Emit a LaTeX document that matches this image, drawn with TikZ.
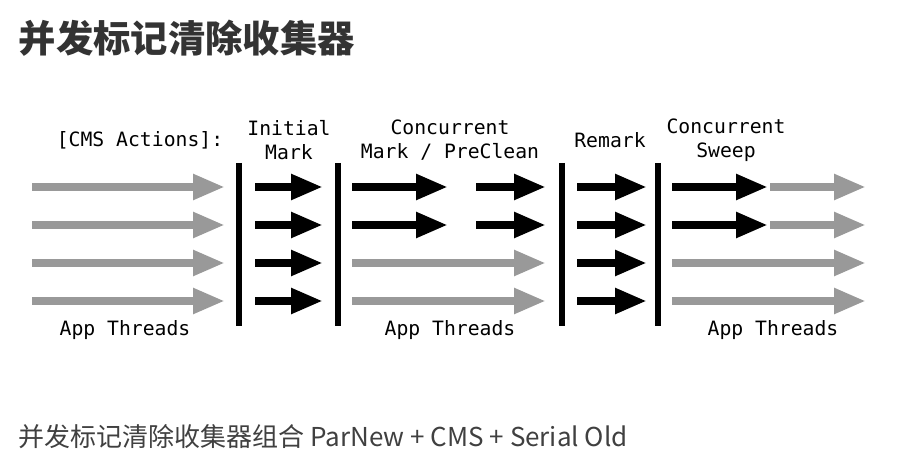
\documentclass[tikz,border=0pt]{standalone}
\usepackage{fontspec}
\setmonofont{DejaVu Sans Mono}
\newfontfamily\cjk{Noto Sans CJK SC}
\usetikzlibrary{arrows.meta}
\definecolor{ag}{HTML}{999999}
\begin{document}
\begin{tikzpicture}[x=0.75pt,y=-0.75pt,
  ar/.style={line width=6pt,-{Triangle[length=24pt,width=18pt]},shorten >=0pt},
  blk/.style={ar,black},
  gry/.style={ar,ag},
  bar/.style={line width=5pt,black},
  lbl/.style={font=\ttfamily\fontsize{14.8}{18}\selectfont,align=center}]
\useasboundingbox (0,0) rectangle (913,466);
\node[anchor=west,font=\cjk\bfseries\fontsize{28}{32}\selectfont,text=black!80] (title) at (14,38) {并发标记清除收集器};
\node[anchor=west,font=\cjk\fontsize{19.5}{23}\selectfont,text=black!75] (sub) at (14,437) {并发标记清除收集器组合 ParNew + CMS + Serial Old};
% bars
\foreach \x/\n in {239/b1,338/b2,562/b3,658/b4}{
  \coordinate (\n t) at (\x,163); \coordinate (\n b) at (\x,326);
  \draw[bar] (\n t) -- (\n b);}
\foreach \y/\r in {187/1,225/2,263/3,301/4}{
  \coordinate (g\r s) at (32,\y); \coordinate (g\r e) at (225,\y);
  \draw[gry] (g\r s) -- (g\r e);
  \coordinate (i\r s) at (255,\y); \coordinate (i\r e) at (323,\y);
  \draw[blk] (i\r s) -- (i\r e);
  \coordinate (r\r s) at (577,\y); \coordinate (r\r e) at (647,\y);
  \draw[blk] (r\r s) -- (r\r e);
}
\foreach \y/\r in {187/1,225/2}{
  \coordinate (c\r a) at (352,\y); \coordinate (c\r b) at (448,\y);
  \coordinate (c\r c) at (476,\y); \coordinate (c\r d) at (546,\y);
  \draw[blk] (c\r a) -- (c\r b); \draw[blk] (c\r c) -- (c\r d);
  \coordinate (s\r a) at (672,\y); \coordinate (s\r b) at (768,\y);
  \coordinate (s\r c) at (770,\y); \coordinate (s\r d) at (866,\y);
  \draw[blk] (s\r a) -- (s\r b); \draw[gry] (s\r c) -- (s\r d);
}
\foreach \y/\r in {263/3,301/4}{
  \coordinate (c\r a) at (352,\y); \coordinate (c\r d) at (546,\y);
  \draw[gry] (c\r a) -- (c\r d);
  \coordinate (s\r a) at (672,\y); \coordinate (s\r d) at (866,\y);
  \draw[gry] (s\r a) -- (s\r d);
}
\node[lbl] (cms) at (140,140) {[CMS Actions]:};
\node[lbl] (im) at (289,140) {Initial\\Mark};
\node[lbl] (cm) at (450,140) {Concurrent\\Mark / PreClean};
\node[lbl] (rm) at (610,140) {Remark};
\node[lbl] (cs) at (726,140) {Concurrent\\Sweep};
\node[lbl] (a1) at (125,330) {App Threads};
\node[lbl] (a2) at (450,330) {App Threads};
\node[lbl] (a3) at (773,330) {App Threads};
\end{tikzpicture}
\end{document}
